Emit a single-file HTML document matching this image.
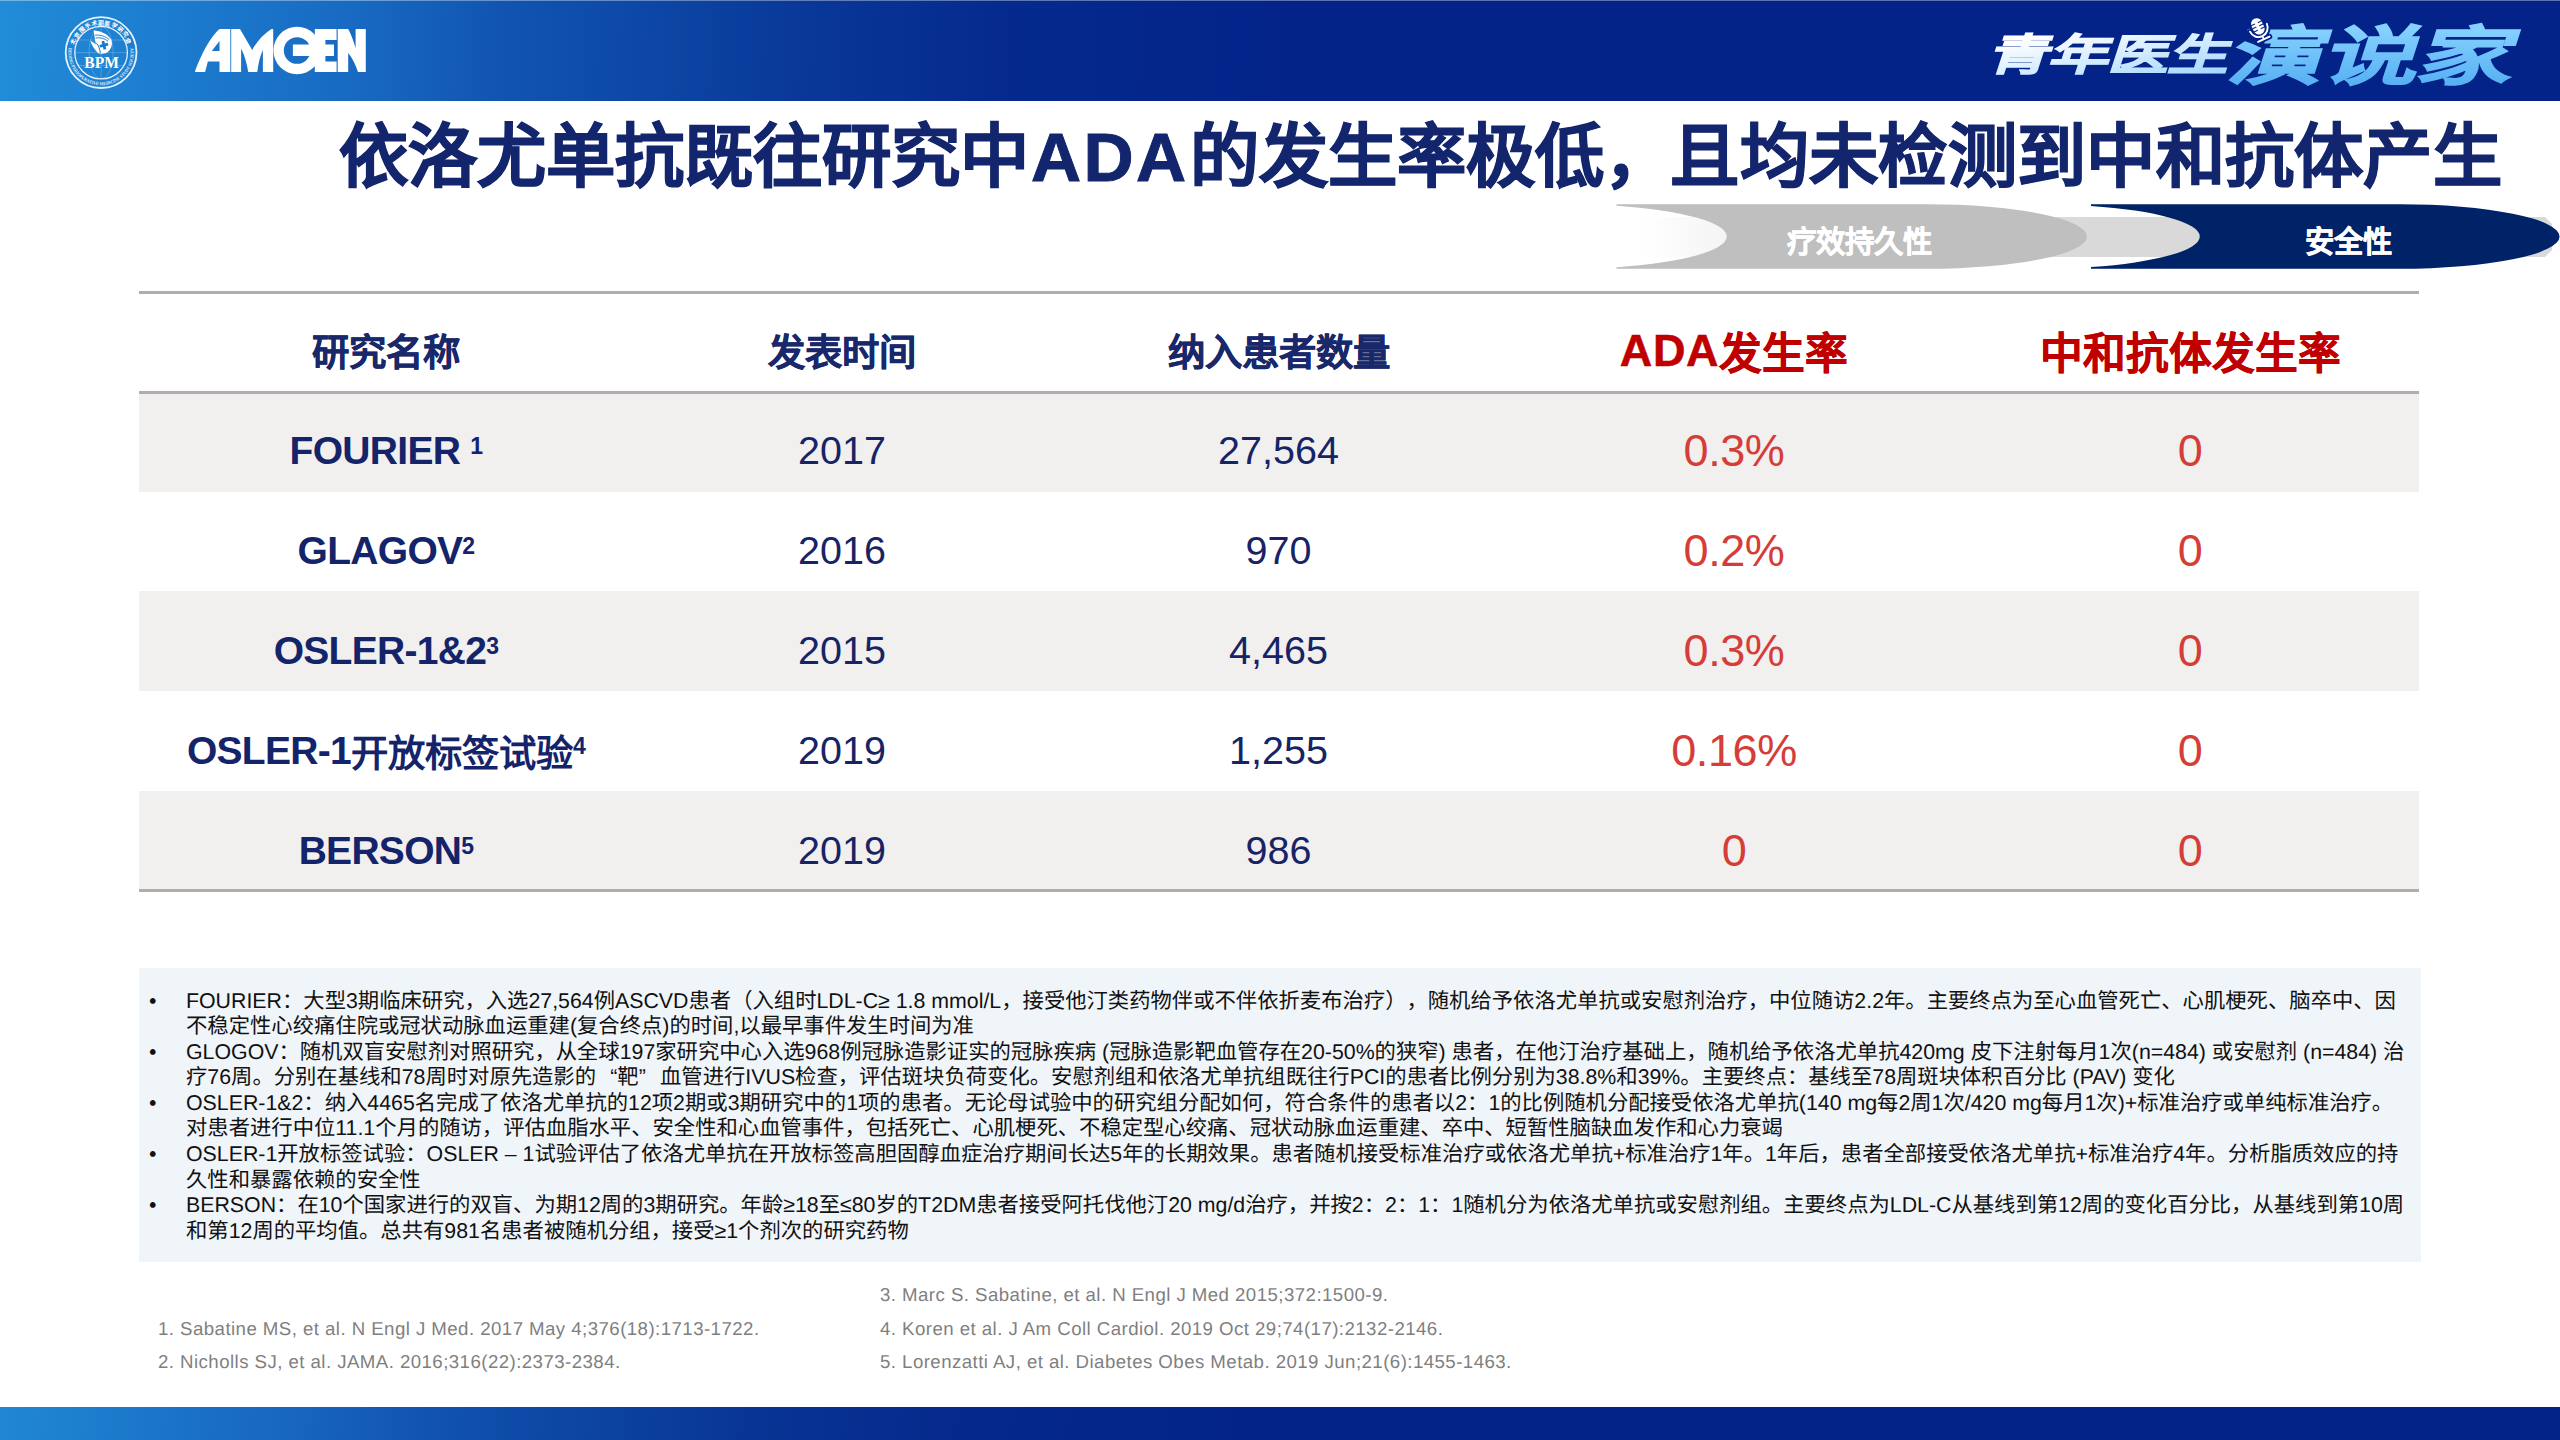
<!DOCTYPE html>
<html lang="zh-CN">
<head>
<meta charset="utf-8">
<title>依洛尤单抗既往研究中ADA的发生率极低</title>
<style>
*{box-sizing:border-box;margin:0;padding:0}
html,body{width:2560px;height:1440px;overflow:hidden;background:#fff}
body{position:relative;font-family:"Liberation Sans",sans-serif;color:#16235e}
.abs{position:absolute}
/* header */
#hdr{left:0;top:0;width:2560px;height:101px;background:linear-gradient(92deg,#218cd8 0px,#1c7bcd 180px,#186ac2 350px,#1155b1 500px,#0d47a5 650px,#093899 800px,#052a8e 1000px,#032389 1300px,#032389 2560px)}
#hdrline{left:0;top:0;width:2560px;height:1.4px;background:rgba(255,255,255,.36)}
/* title */
#title{left:339px;top:111px;width:2200px;height:92px;line-height:92px;font-size:69.33px;font-weight:bold;color:#13266d;-webkit-text-stroke:1px #13266d;white-space:nowrap}
/* table */
.hl{left:139px;width:2280px;height:3px;background:#b3acae}
.row{left:139px;width:2280px;height:100px}
.shade{background:#f2efef}
.c{position:absolute;top:0;height:100%;display:flex;align-items:center;justify-content:center;white-space:nowrap;transform:translateX(-50%)}
.c1{left:247px}.c2{left:703px}.c3{left:1139.5px}.c4{left:1595px}.c5{left:2051px}
.th{font-weight:bold;font-size:37.33px;color:#18286b;-webkit-text-stroke:.5px #18286b}
.thr{font-weight:bold;font-size:42.67px;color:#c00000;-webkit-text-stroke:.5px #c00000}
.nm{font-weight:bold;font-size:39px;letter-spacing:-.7px;color:#14246a}
.nm .zh{font-size:37.33px;letter-spacing:0}
.nm sup{font-size:23px;vertical-align:baseline;position:relative;top:-5px;line-height:0}
.dv{font-size:39.5px;color:#162466}
.rv{font-size:45px;color:#d53d39;letter-spacing:-.4px}
.navt{-webkit-text-stroke:.5px #fff;font-size:29.33px;font-weight:bold;color:#fff;text-align:center;line-height:40px;height:40px;white-space:nowrap}
/* notes */
#notes{left:139px;top:968px;width:2282px;height:294px;background:#f0f5fa}
#notes ul{list-style:none;position:absolute;left:0;top:20.5px;width:2282px}
#notes li{text-spacing-trim:space-all;text-rendering:geometricPrecision;position:relative;padding-left:47px;font-size:21.33px;line-height:25.6px;color:#111;white-space:nowrap}
#notes li:before{content:"•";position:absolute;left:10px;top:0}
#notes .q{display:inline-block;width:21.33px}
/* refs */
.ref{letter-spacing:.44px;text-rendering:geometricPrecision;font-size:18.67px;color:#7f7f7f;white-space:nowrap;line-height:24px}
/* footer */
#ftr{left:0;top:1407px;width:2560px;height:33px;background:linear-gradient(95deg,#2088d5 0px,#1b76c9 150px,#1765bd 300px,#1051ad 450px,#0c43a1 600px,#083595 750px,#05298c 950px,#032389 1250px,#032389 2560px)}
</style>
</head>
<body>
<div id="hdr" class="abs"></div>
<div id="hdrline" class="abs"></div>
<svg class="abs" style="left:59px;top:10px" width="84" height="84" viewBox="59 10 84 84">
<g fill="none" stroke="#fff">
<circle cx="101.1" cy="52.6" r="35.4" stroke-width="1.8" stroke="#e4f1ff"/>
<circle cx="101.1" cy="52.6" r="26.3" stroke-width="1.3" stroke="#e4f1ff"/>
<g stroke-width=".6" opacity=".35"><ellipse cx="101.1" cy="52.6" rx="12" ry="26"/><path d="M101.1,26.5V78.5 M75,52.6H127 M78.5,40H123.5 M78.5,65.5H123.5"/></g>
</g>
<path id="bpmT" d="M73.2,52.6 A27.9,27.9 0 0 1 129,52.6" fill="none"/>
<path id="bpmB" d="M69.5,44.1 A32.7,32.7 0 1 0 132.7,44.1" fill="none"/>
<text font-family="Liberation Sans, sans-serif" font-size="5.8" font-weight="bold" fill="#fff" letter-spacing=".5"><textPath href="#bpmT" startOffset="50%" text-anchor="middle">北京围手术期医学研究会</textPath></text>
<text font-family="Liberation Serif, serif" font-size="4.7" font-weight="bold" fill="#e4f1ff" ><textPath href="#bpmB" startOffset="50%" text-anchor="middle" textLength="112" lengthAdjust="spacingAndGlyphs">BEIJING PERIOPERATIVE MEDICINE STUDY SOCIETY</textPath></text>
<circle cx="72.3" cy="41.6" r=".9" fill="#fff"/><circle cx="130" cy="41.6" r=".9" fill="#fff"/>
<path d="M93.5,30.4 C101,30.8 108.5,34 111.4,40 C113.2,45.5 110.5,51 105.8,53.2 C102.5,53.9 99.8,53.7 98.3,53.2 C95,50 92,45.5 90.3,40.9 C92.5,41.5 94.5,42.8 96,44.5 C94.6,39.5 94.6,34.5 93.5,30.4 Z" fill="#fff"/>
<g fill="none" stroke="#1a78cc" stroke-width=".9"><path d="M95.2,35.2 C100,34.6 105.5,36.2 109.3,39.8"/><path d="M95.6,38 C100,37.2 104.6,38.4 108,41.2"/></g>
<path d="M96.3,43 C98.6,45.5 99.9,49 100.3,53.2" fill="none" stroke="#1a78cc" stroke-width="1"/>
<path d="M102.5,40.9h2.8v2.9h2.9v2.8h-2.9v2.9h-2.8v-2.9h-2.9v-2.8h2.9z" fill="#1a78cc" transform="rotate(-14 103.9 45.2)"/>
<text x="101.6" y="67.5" font-family="Liberation Serif, serif" font-size="17" font-weight="bold" fill="#fff" text-anchor="middle" textLength="34.6" lengthAdjust="spacingAndGlyphs">BPM</text>
</svg>
<svg class="abs" style="left:190px;top:20px" width="180" height="60" viewBox="190 20 180 60">
<g fill="#fff">
<path fill-rule="evenodd" d="M194.9,72 C199,60 209,38 219.5,29.1 L230.3,29.1 L230.3,72 L219.5,72 L219.5,61.5 L207.9,61.5 L205.1,72 Z M219.5,41.1 L211.8,50.9 L219.5,50.9 Z"/>
<path d="M231.2,72 L231.2,28.9 L240,28.9 L252.2,49.9 Q260,36 271.5,28.9 L273.2,28.9 L273.2,72 L262.9,72 L262.9,49.9 Q259,58 257.25,72 L248.25,72 Q246,58 241.1,48.4 L241.1,72 Z"/>
<path fill-rule="evenodd" d="M273.4,50.5 a23.7,23.7 0 1 0 47.4,0 a23.7,23.7 0 1 0 -47.4,0 Z M283.8,50.5 a13.3,13.3 0 1 1 26.6,0 a13.3,13.3 0 1 1 -26.6,0 Z"/>
<path d="M292.9,44.6 H334 V56 H292.9 Z"/>
<path d="M314.8,29.1 H336.6 V40 H325.4 V61.5 H336.6 V72 H314.8 Z"/>
<path d="M337.7,72 L337.7,29.1 L348.2,29.1 Q352,36 355.6,48 L355.6,29.1 L365.8,29.1 L365.8,72 L358,72 Q354,60 348.2,53 L348.2,72 Z"/>
</g>
</svg>
<svg class="abs" style="left:1960px;top:0" width="600" height="100" viewBox="1960 0 600 100">
<defs><linearGradient id="lgA" x1="0" y1="0" x2="1" y2="1"><stop offset=".15" stop-color="#ffffff"/><stop offset=".95" stop-color="#a4d6ff"/></linearGradient>
<linearGradient id="lgB" x1="0" y1="0" x2="0" y2="1"><stop offset=".1" stop-color="#86d1ff"/><stop offset=".9" stop-color="#56b0f3"/></linearGradient></defs>
<g font-family="Liberation Sans, sans-serif" font-weight="bold" stroke-linejoin="miter">
<text id="lg1" transform="translate(1987,69.5) skewX(-18) scale(1.41,1)" font-size="43" fill="url(#lgA)" stroke="url(#lgA)" stroke-width="1.3">青年医生</text>
<text id="lg2" transform="translate(2226,79) skewX(-18) scale(1.48,1)" font-size="64" fill="url(#lgB)" stroke="url(#lgB)" stroke-width="1.5">演说家</text>
</g></svg>
<svg class="abs" style="left:2236px;top:8px" width="48" height="44" viewBox="2236 8 48 44">
<g transform="translate(2257.8,26.4) rotate(-25)" fill="none" stroke-linecap="round">
<g stroke="#04238a" stroke-width="5.5"><rect x="-5.6" y="-8.4" width="11.2" height="16.8" rx="5.6" fill="#04238a"/><path d="M-9.3,1.5 A9.3,9.3 0 0 0 9.3,1.5 M0,10.8 V14 M-6.3,14.2 H6.3"/></g>
<rect x="-5.6" y="-8.4" width="11.2" height="16.8" rx="5.6" fill="#fff"/>
<path d="M-9.3,1.5 A9.3,9.3 0 0 0 9.3,1.5 M0,10.8 V14 M-6.3,14.2 H6.3" stroke="#fff" stroke-width="1.9"/>
<path d="M-5.8,-3.4H-1.6 M-5.8,0H-1.6 M-5.8,3.4H-1.6 M1.6,-3.4H5.8 M1.6,0H5.8 M1.6,3.4H5.8" stroke="#0a2a8c" stroke-width="1.1" stroke-linecap="butt"/>
</g>
</svg>

<div id="title" class="abs">依洛尤单抗既往研究中<span style="letter-spacing:2.4px;margin-left:2px">ADA</span><span style="margin-left:2px">的</span>发生率极低<span style="margin-right:-3px">，</span><span style="letter-spacing:.3px">且均未检测到中和抗体产生</span></div>
<svg class="abs" style="left:0;top:190px" width="2560" height="100" viewBox="0 190 2560 100">
<defs><linearGradient id="bandg" gradientUnits="userSpaceOnUse" x1="1640" y1="0" x2="2090" y2="0"><stop offset="0" stop-color="#ffffff"/><stop offset=".2" stop-color="#f4f4f4"/><stop offset="1" stop-color="#d9d9d9"/></linearGradient></defs>
<path d="M1630,217 H2545 L2552,224 V250 L2545,257 H1630 Z" fill="url(#bandg)"/>
<path d="M1616.5,204.2 L1927.0,204.2 A160.0,32.3 0 0 1 1927.0,268.8 L1616.5,268.8 L1616.5,267.2 A160.0,32.3 0 0 0 1616.5,205.8 Z" fill="#bfbfbf"/>
<path d="M2091.0,204.2 L2399.6,204.2 A160.0,32.3 0 0 1 2399.6,268.8 L2091.0,268.8 L2091.0,267.1 A160.0,32.3 0 0 0 2091.0,205.9 Z" fill="#002266"/>
</svg>
<div class="abs navt" style="left:1759px;top:221.5px;width:200px">疗效持久性</div>
<div class="abs navt" style="left:2248px;top:221.5px;width:200px">安全性</div>

<div class="abs shade" style="left:139px;width:2280px;top:394px;height:97.5px"></div>
<div class="abs shade" style="left:139px;width:2280px;top:591px;height:100px"></div>
<div class="abs shade" style="left:139px;width:2280px;top:791px;height:98px"></div>
<div class="abs hl" style="top:291px"></div>
<div class="abs hl" style="top:391px"></div>
<div class="abs hl" style="top:889px"></div>
<div class="abs row" style="top:301.5px;height:97px">
<div class="c c1 th">研究名称</div><div class="c c2 th">发表时间</div><div class="c c3 th">纳入患者数量</div><div class="c c4 thr"><span style="font-size:45px;letter-spacing:.6px;position:relative;top:1px">ADA</span>发生率</div><div class="c c5 thr">中和抗体发生率</div>
</div>
<div class="abs row" style="top:400.5px">
<div class="c c1 nm">FOURIER&nbsp;<sup>1</sup></div><div class="c c2 dv">2017</div><div class="c c3 dv">27,564</div><div class="c c4 rv">0.3%</div><div class="c c5 rv">0</div>
</div>
<div class="abs row" style="top:500.5px">
<div class="c c1 nm">GLAGOV<sup>2</sup></div><div class="c c2 dv">2016</div><div class="c c3 dv">970</div><div class="c c4 rv">0.2%</div><div class="c c5 rv">0</div>
</div>
<div class="abs row" style="top:600.5px">
<div class="c c1 nm">OSLER-1&amp;2<sup>3</sup></div><div class="c c2 dv">2015</div><div class="c c3 dv">4,465</div><div class="c c4 rv">0.3%</div><div class="c c5 rv">0</div>
</div>
<div class="abs row" style="top:700.5px">
<div class="c c1 nm">OSLER-1<span class="zh">开放标签试验</span><sup>4</sup></div><div class="c c2 dv">2019</div><div class="c c3 dv">1,255</div><div class="c c4 rv">0.16%</div><div class="c c5 rv">0</div>
</div>
<div class="abs row" style="top:800.5px">
<div class="c c1 nm">BERSON<sup>5</sup></div><div class="c c2 dv">2019</div><div class="c c3 dv">986</div><div class="c c4 rv">0</div><div class="c c5 rv">0</div>
</div>
<div id="notes" class="abs"><ul>
<li>FOURIER：大型3期临床研究，入选27,564例ASCVD患者（入组时LDL-C≥ 1.8 mmol/L，接受他汀类药物伴或不伴依折麦布治疗），随机给予依洛尤单抗或安慰剂治疗，中位随访2.2年。主要终点为至心血管死亡、心肌梗死、脑卒中、因<br>不稳定性心绞痛住院或冠状动脉血运重建(复合终点)的时间,以最早事件发生时间为准</li>
<li>GLOGOV：随机双盲安慰剂对照研究，从全球197家研究中心入选968例冠脉造影证实的冠脉疾病 (冠脉造影靶血管存在20-50%的狭窄) 患者，在他汀治疗基础上，随机给予依洛尤单抗420mg 皮下注射每月1次(n=484) 或安慰剂 (n=484) 治<br>疗76周。分别在基线和78周时对原先造影的<span class="q" style="text-align:right">“</span>靶<span class="q" style="text-align:left">”</span>血管进行IVUS检查，评估斑块负荷变化。安慰剂组和依洛尤单抗组既往行PCI的患者比例分别为38.8%和39%。主要终点：基线至78周斑块体积百分比 (PAV) 变化</li>
<li>OSLER-1&amp;2：纳入4465名完成了依洛尤单抗的12项2期或3期研究中的1项的患者。无论母试验中的研究组分配如何，符合条件的患者以2：1的比例随机分配接受依洛尤单抗(140 mg每2周1次/420 mg每月1次)+标准治疗或单纯标准治疗。<br>对患者进行中位11.1个月的随访，评估血脂水平、安全性和心血管事件，包括死亡、心肌梗死、不稳定型心绞痛、冠状动脉血运重建、卒中、短暂性脑缺血发作和心力衰竭</li>
<li>OSLER-1开放标签试验：OSLER – 1试验评估了依洛尤单抗在开放标签高胆固醇血症治疗期间长达5年的长期效果。患者随机接受标准治疗或依洛尤单抗+标准治疗1年。1年后，患者全部接受依洛尤单抗+标准治疗4年。分析脂质效应的持<br>久性和暴露依赖的安全性</li>
<li>BERSON：在10个国家进行的双盲、为期12周的3期研究。年龄≥18至≤80岁的T2DM患者接受阿托伐他汀20 mg/d治疗，并按2：2：1：1随机分为依洛尤单抗或安慰剂组。主要终点为LDL-C从基线到第12周的变化百分比，从基线到第10周<br>和第12周的平均值。总共有981名患者被随机分组，接受≥1个剂次的研究药物</li>
</ul></div>

<div class="abs ref" style="left:158px;top:1317px">1. Sabatine MS, et al. N Engl J Med. 2017 May 4;376(18):1713-1722.</div>
<div class="abs ref" style="left:158px;top:1350px">2. Nicholls SJ, et al. JAMA. 2016;316(22):2373-2384.</div>
<div class="abs ref" style="left:880px;top:1283px">3. Marc S. Sabatine, et al. N Engl J Med 2015;372:1500-9.</div>
<div class="abs ref" style="left:880px;top:1317px">4. Koren et al. J Am Coll Cardiol. 2019 Oct 29;74(17):2132-2146.</div>
<div class="abs ref" style="left:880px;top:1350px">5. Lorenzatti AJ, et al. Diabetes Obes Metab. 2019 Jun;21(6):1455-1463.</div>

<div id="ftr" class="abs"></div>
</body>
</html>
